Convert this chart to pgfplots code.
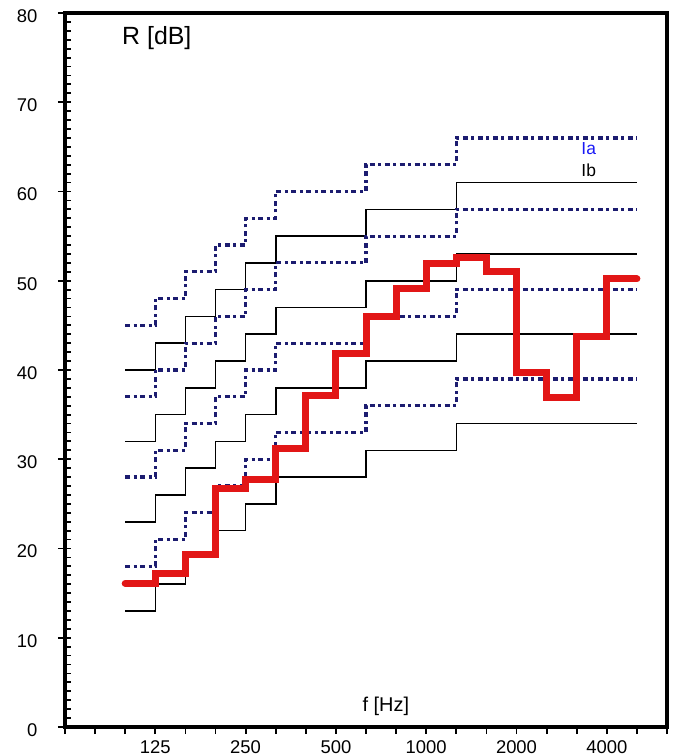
\documentclass[border=0pt]{standalone}
\usepackage{pgfplots}
\pgfplotsset{compat=1.18}
\usepackage{fontspec}
\setmainfont{Liberation Sans}
\definecolor{rcol}{RGB}{226,22,22}
\definecolor{navy}{RGB}{28,28,112}
\definecolor{iablue}{RGB}{25,25,245}
\begin{document}
\begin{tikzpicture}
\path[use as bounding box] (-65bp,-29bp) rectangle (608bp,727bp);
\begin{axis}[
  at={(0,0)}, anchor=south west,
  scale only axis, width=602bp, height=714bp,
  xmin=0, xmax=20, ymin=0, ymax=80,
  axis line style={line width=4.2bp},
  xtick={0,...,20},
  xticklabels={,,,125,,,250,,,500,,,1000,,,2000,,,4000,,},
  ytick={0,10,...,80},
  xtick pos=left, ytick pos=left,
  tick align=outside,
  major tick length=7bp,
  tick style={line width=1.8bp, black},
  ticklabel style={font=\fontsize{18.5}{22}\selectfont},
  /pgf/number format/assume math mode=true,
  yticklabel style={xshift=-17bp, yshift=-3bp},
  xticklabel style={yshift=-3bp},
  clip=false,
]
% black reference curves (Ib)
\addplot[const plot, black, line width=1.6bp] coordinates {(2,13)(3,16)(4,19)(5,22)(6,25)(7,28)(10,31)(13,34)(19,34)};
\addplot[const plot, black, line width=1.6bp] coordinates {(2,23)(3,26)(4,29)(5,32)(6,35)(7,38)(10,41)(13,44)(19,44)};
\addplot[const plot, black, line width=1.6bp] coordinates {(2,32)(3,35)(4,38)(5,41)(6,44)(7,47)(10,50)(13,53)(19,53)};
\addplot[const plot, black, line width=1.6bp] coordinates {(2,40)(3,43)(4,46)(5,49)(6,52)(7,55)(10,58)(13,61)(19,61)};
% blue dotted curves (Ia)
\addplot[const plot, navy, line width=3.2bp, dash pattern=on 5bp off 3.5bp on 3bp off 3.5bp] coordinates {(2,18)(3,21)(4,24)(5,27)(6,30)(7,33)(10,36)(13,39)(19,39)};
\addplot[const plot, navy, line width=3.2bp, dash pattern=on 5bp off 3.5bp on 3bp off 3.5bp] coordinates {(2,28)(3,31)(4,34)(5,37)(6,40)(7,43)(10,46)(13,49)(19,49)};
\addplot[const plot, navy, line width=3.2bp, dash pattern=on 5bp off 3.5bp on 3bp off 3.5bp] coordinates {(2,37)(3,40)(4,43)(5,46)(6,49)(7,52)(10,55)(13,58)(19,58)};
\addplot[const plot, navy, line width=3.2bp, dash pattern=on 5bp off 3.5bp on 3bp off 3.5bp] coordinates {(2,45)(3,48)(4,51)(5,54)(6,57)(7,60)(10,63)(13,66)(19,66)};
% measured curve
\addplot[const plot, rcol, line width=7bp, line cap=round] coordinates {
(2,16.1)(3,17.2)(4,19.3)(5,26.7)(6,27.7)(7,31.2)(8,37.1)(9,41.9)(10,46.0)
(11,49.1)(12,51.9)(13,52.6)(14,51.0)(15,39.7)(16,36.9)(17,43.7)(18,50.2)(19,50.2)};
\node[font=\fontsize{25}{30}\selectfont] at (axis cs:3.05,77.2) {R [dB]};
\node[font=\fontsize{20}{24}\selectfont] at (axis cs:10.66,2.3) {f [Hz]};
\node[font=\fontsize{17.5}{21}\selectfont, text=iablue] at (axis cs:17.4,64.8) {Ia};
\node[font=\fontsize{17.5}{21}\selectfont] at (axis cs:17.4,62.4) {Ib};
\end{axis}
\begin{axis}[
  at={(0,0)}, anchor=south west,
  scale only axis, width=602bp, height=714bp,
  xmin=0, xmax=20, ymin=0, ymax=80,
  axis line style={draw=none},
  xtick=\empty,
  ytick={0,10,...,80}, minor ytick={1,...,79},
  yticklabels=\empty,
  ytick pos=left,
  tick align=inside,
  major tick length=6bp, minor tick length=6bp,
  tick style={line width=1.8bp, black},
]
\end{axis}
\end{tikzpicture}
\end{document}
